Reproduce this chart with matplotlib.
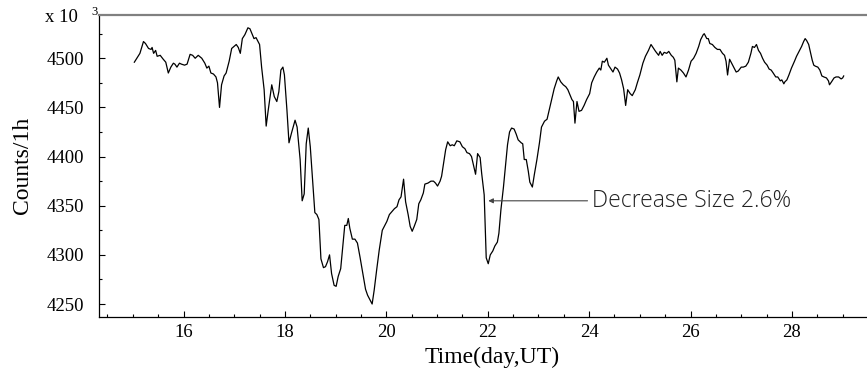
import matplotlib
matplotlib.use("Agg")
import matplotlib.pyplot as plt
from matplotlib.ticker import MultipleLocator

# hourly counts (x 10^3)
days = [15.03, 15.14, 15.21, 15.25, 15.31, 15.36, 15.38, 15.41, 15.45, 15.48,
        15.54, 15.60, 15.65, 15.70, 15.75, 15.80, 15.83, 15.87, 15.92, 15.96,
        16.02, 16.07, 16.13, 16.18, 16.23, 16.29, 16.36, 16.42, 16.46, 16.50,
        16.54, 16.59, 16.64, 16.67, 16.71, 16.75, 16.80, 16.84, 16.90, 16.95,
        17.04, 17.08, 17.12, 17.16, 17.21, 17.27, 17.31, 17.35, 17.39, 17.43,
        17.50, 17.54, 17.59, 17.63, 17.67, 17.74, 17.79, 17.84, 17.88, 17.92,
        17.96, 17.99, 18.04, 18.08, 18.13, 18.20, 18.24, 18.30, 18.34, 18.38,
        18.42, 18.46, 18.50, 18.54, 18.59, 18.63, 18.67, 18.71, 18.76, 18.80,
        18.84, 18.88, 18.92, 18.97, 19.01, 19.05, 19.10, 19.14, 19.18, 19.22,
        19.25, 19.28, 19.33, 19.38, 19.43, 19.48, 19.53, 19.59, 19.63, 19.68,
        19.72, 19.76, 19.81, 19.86, 19.92, 19.96, 20.01, 20.06, 20.11, 20.16,
        20.21, 20.25, 20.29, 20.34, 20.38, 20.43, 20.47, 20.51, 20.55, 20.60,
        20.64, 20.68, 20.73, 20.76, 20.82, 20.88, 20.93, 20.97, 21.01, 21.06,
        21.09, 21.14, 21.17, 21.21, 21.26, 21.30, 21.34, 21.39, 21.45, 21.50,
        21.55, 21.59, 21.64, 21.68, 21.72, 21.76, 21.80, 21.85, 21.88, 21.93,
        21.95, 21.97, 22.01, 22.05, 22.10, 22.14, 22.19, 22.22, 22.26, 22.31,
        22.35, 22.39, 22.43, 22.47, 22.52, 22.56, 22.60, 22.66, 22.69, 22.72,
        22.76, 22.80, 22.83, 22.88, 22.92, 22.97, 23.02, 23.06, 23.12, 23.17,
        23.21, 23.26, 23.31, 23.36, 23.39, 23.44, 23.49, 23.54, 23.58, 23.62,
        23.66, 23.69, 23.72, 23.76, 23.80, 23.85, 23.90, 23.95, 24.01, 24.05,
        24.10, 24.15, 24.20, 24.23, 24.26, 24.30, 24.35, 24.38, 24.43, 24.47,
        24.51, 24.56, 24.60, 24.64, 24.68, 24.72, 24.76, 24.81, 24.85, 24.91,
        24.95, 25.00, 25.06, 25.11, 25.17, 25.22, 25.27, 25.31, 25.37, 25.40,
        25.44, 25.48, 25.53, 25.57, 25.62, 25.66, 25.69, 25.73, 25.76, 25.81,
        25.86, 25.91, 25.96, 26.01, 26.06, 26.11, 26.16, 26.20, 26.25, 26.27,
        26.32, 26.35, 26.38, 26.43, 26.48, 26.53, 26.58, 26.63, 26.67, 26.70,
        26.73, 26.77, 26.81, 26.86, 26.90, 26.94, 27.00, 27.04, 27.09, 27.14,
        27.19, 27.22, 27.26, 27.30, 27.34, 27.38, 27.42, 27.46, 27.51, 27.55,
        27.59, 27.63, 27.68, 27.72, 27.77, 27.80, 27.84, 27.86, 27.90, 27.94,
        27.99, 28.05, 28.09, 28.14, 28.19, 28.23, 28.26, 28.29, 28.33, 28.36,
        28.40, 28.43, 28.46, 28.51, 28.55, 28.59, 28.63, 28.68, 28.72, 28.74,
        28.78, 28.83, 28.87, 28.92, 28.97, 29.00, 29.02]

counts = [4496, 4505, 4517, 4515, 4510, 4509, 4511, 4505, 4508, 4502,
          4503, 4499, 4496, 4485, 4491, 4495, 4494, 4491, 4495, 4494,
          4493, 4494, 4504, 4503, 4500, 4503, 4500, 4495, 4490, 4492,
          4485, 4484, 4481, 4475, 4450, 4473, 4482, 4485, 4497, 4510,
          4514, 4511, 4505, 4520, 4524, 4531, 4530, 4525, 4520, 4521,
          4514, 4491, 4468, 4431, 4447, 4473, 4461, 4456, 4466, 4488,
          4491, 4483, 4447, 4414, 4424, 4437, 4430, 4397, 4355, 4362,
          4413, 4429, 4410, 4380, 4343, 4341, 4336, 4296, 4287, 4288,
          4293, 4300, 4281, 4269, 4268, 4278, 4286, 4308, 4330, 4330,
          4337, 4327, 4316, 4316, 4312, 4298, 4283, 4265, 4259, 4254,
          4250, 4264, 4285, 4305, 4325, 4329, 4334, 4341, 4344, 4347,
          4349, 4356, 4359, 4377, 4354, 4341, 4329, 4324, 4329, 4336,
          4352, 4356, 4363, 4372, 4373, 4375, 4375, 4373, 4370, 4375,
          4380, 4397, 4407, 4415, 4411, 4412, 4411, 4416, 4415, 4410,
          4408, 4404, 4403, 4400, 4391, 4382, 4403, 4399, 4383, 4361,
          4329, 4297, 4291, 4300, 4304, 4309, 4313, 4322, 4346, 4369,
          4391, 4412, 4425, 4429, 4428, 4423, 4417, 4414, 4413, 4397,
          4397, 4385, 4374, 4369, 4382, 4397, 4414, 4430, 4436, 4438,
          4447, 4458, 4469, 4477, 4481, 4476, 4473, 4471, 4468, 4463,
          4458, 4456, 4434, 4456, 4446, 4447, 4452, 4458, 4464, 4475,
          4481, 4486, 4490, 4488, 4497, 4496, 4500, 4493, 4489, 4486,
          4491, 4489, 4485, 4478, 4469, 4452, 4468, 4464, 4462, 4468,
          4475, 4483, 4495, 4502, 4508, 4514, 4510, 4507, 4503, 4507,
          4503, 4506, 4505, 4507, 4503, 4501, 4498, 4476, 4490, 4488,
          4485, 4481, 4488, 4497, 4500, 4505, 4512, 4519, 4524, 4525,
          4520, 4520, 4515, 4514, 4511, 4509, 4509, 4505, 4503, 4497,
          4483, 4499, 4495, 4490, 4486, 4487, 4491, 4491, 4492, 4496,
          4505, 4512, 4511, 4514, 4508, 4505, 4500, 4496, 4493, 4489,
          4488, 4485, 4481, 4481, 4477, 4478, 4474, 4476, 4478, 4483,
          4490, 4497, 4502, 4507, 4512, 4517, 4520, 4518, 4514, 4507,
          4498, 4493, 4492, 4491, 4488, 4482, 4481, 4480, 4477, 4473,
          4476, 4480, 4481, 4481, 4479, 4480, 4482]

xticks = [16, 18, 20, 22, 24, 26, 28]
yticks = [4250, 4300, 4350, 4400, 4450, 4500]

arrow_tip = (22.01, 4355)
label_at = (24.05, 4355)

serif = ['Liberation Serif', 'DejaVu Serif']

fig = plt.figure(figsize=(8.67, 3.68), dpi=100)
ax = fig.add_axes([99 / 867, 51.3 / 368, 1 - 99 / 867, 0.8198])

ax.plot(days, counts, color='black', lw=0.9)

ax.set_xlim(14.333, 29.48)
ax.set_ylim(4237.1, 4544)

ax.set_xticks(xticks)
ax.set_yticks(yticks)
ax.xaxis.set_minor_locator(MultipleLocator(0.5))
ax.yaxis.set_minor_locator(MultipleLocator(25))
ax.tick_params(which='major', direction='in', length=4, width=0.8,
               labelsize=13.5, top=False, right=False)
ax.tick_params(which='minor', direction='in', length=2, width=0.8,
               top=False, right=False)
ax.tick_params(axis='x', which='major', pad=5)
ax.tick_params(axis='y', which='major', pad=11)
for lab in ax.get_xticklabels() + ax.get_yticklabels():
    lab.set_family(serif)

ax.spines['right'].set_visible(False)
ax.spines['top'].set_color('#808080')
ax.spines['top'].set_linewidth(1.6)
ax.spines['left'].set_linewidth(0.9)
ax.spines['bottom'].set_linewidth(0.9)

ax.set_xlabel('Time(day,UT)', family=serif, fontsize=17)
ax.xaxis.set_label_coords(0.512, -0.135)
ax.xaxis.label.set_va('center')
ax.set_ylabel('Counts/1h', family=serif, fontsize=17)
ax.yaxis.set_label_coords(-0.10, 0.50)
ax.yaxis.label.set_va('center')

fig.text(78 / 867, 1 - 18 / 368, 'x 10', family=serif, fontsize=13.5,
         ha='right', va='center')
fig.text(91 / 867, 1 - 12 / 368, '3', family=serif, fontsize=9,
         ha='left', va='center')

ax.annotate('Decrease Size 2.6%', xy=arrow_tip, xytext=label_at,
            va='center', ha='left', fontsize=16.5, color='#222222',
            family=['Open Sans', 'DejaVu Sans'], fontweight='light',
            arrowprops=dict(arrowstyle='-|>', color='#444444', lw=0.8,
                            mutation_scale=7, shrinkA=1, shrinkB=0))

fig.savefig('out.png', dpi=100)
